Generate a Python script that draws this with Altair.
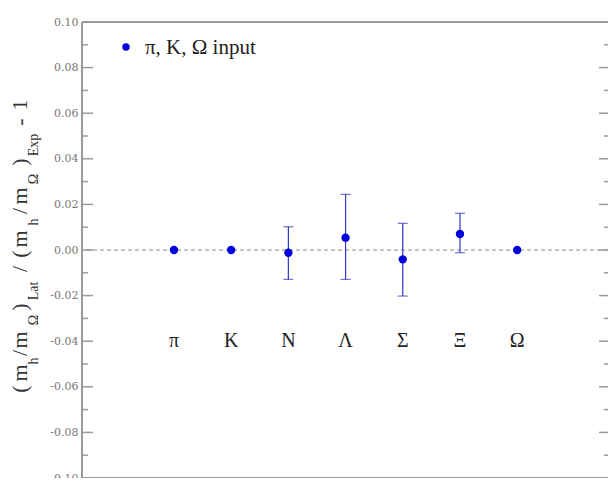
import altair as alt
import pandas as pd

# ---- data ----
hadrons = ["π", "K", "N", "Λ", "Σ", "Ξ", "Ω"]
xpos = [1, 2, 3, 4, 5, 6, 7]
values = [0.0, 0.0, -0.0012, 0.0054, -0.0041, 0.0070, 0.0]
err_hi = [None, None, 0.0102, 0.0244, 0.0117, 0.0161, None]
err_lo = [None, None, -0.0129, -0.0129, -0.0202, -0.0012, None]
label_y = -0.04
major_ticks = [-0.10, -0.08, -0.06, -0.04, -0.02, 0.00, 0.02, 0.04, 0.06, 0.08, 0.10]
minor_ticks = [-0.09, -0.07, -0.05, -0.03, -0.01, 0.01, 0.03, 0.05, 0.07, 0.09]
legend_text = "π, K, Ω input"

W, H = 526, 456
BLUE = "#0000dd"
GRAY = "#9a9a9a"
SERIF = "Liberation Serif"

df = pd.DataFrame({"x": xpos, "v": values, "hadron": hadrons})
dfe = pd.DataFrame({"x": xpos, "lo": err_lo, "hi": err_hi}).dropna()
dfl = pd.DataFrame({"x": xpos, "y": [label_y] * len(xpos), "hadron": hadrons})
dfmaj = pd.DataFrame({"t": major_ticks})
dfmin = pd.DataFrame({"t": minor_ticks})
dfz = pd.DataFrame({"z": [0.0]})

xs = alt.Scale(domain=[-0.608, 8.588], nice=False, zero=False)
ys = alt.Scale(domain=[-0.1, 0.1], nice=False, zero=False)

yaxis = alt.Axis(
    values=major_ticks, ticks=False, domain=False, grid=False, title=None,
    labelExpr="replace(format(datum.value, '.2f'), '\u2212', '-')",
    labelFont="DejaVu Serif", labelFontSize=11, labelColor="#777777",
    labelPadding=4,
)

X = lambda f: alt.X(f, type="quantitative", scale=xs, axis=None)
Y = lambda f: alt.Y(f, type="quantitative", scale=ys, axis=yaxis)

zero = alt.Chart(dfz).mark_rule(color="#888888", strokeDash=[4, 3], strokeWidth=1).encode(
    y=Y("z:Q")
)

# frame (left, top, bottom); right side lies at the picture's edge
frame_l = alt.Chart(dfz).mark_rule(color=GRAY, strokeWidth=2).encode(
    x=alt.value(0), y=alt.value(0), y2=alt.value(H))
frame_t = alt.Chart(dfz).mark_rule(color=GRAY, strokeWidth=2).encode(
    x=alt.value(0), x2=alt.value(W), y=alt.value(0))
frame_b = alt.Chart(dfz).mark_rule(color=GRAY, strokeWidth=2).encode(
    x=alt.value(0), x2=alt.value(W), y=alt.value(H))

maj_l = alt.Chart(dfmaj).mark_rule(color=GRAY, strokeWidth=1.5).encode(
    y=Y("t:Q"), x=alt.value(0), x2=alt.value(11))
min_l = alt.Chart(dfmin).mark_rule(color=GRAY, strokeWidth=1.5).encode(
    y=Y("t:Q"), x=alt.value(0), x2=alt.value(6))
maj_r = alt.Chart(dfmaj).mark_rule(color=GRAY, strokeWidth=1.5).encode(
    y=Y("t:Q"), x=alt.value(W + 2), x2=alt.value(W - 9))
min_r = alt.Chart(dfmin).mark_rule(color=GRAY, strokeWidth=1.5).encode(
    y=Y("t:Q"), x=alt.value(W + 2), x2=alt.value(W - 4))

ebar = alt.Chart(dfe).mark_rule(color="#3333cc", strokeWidth=1.2).encode(
    x=X("x:Q"), y=Y("lo:Q"), y2="hi:Q")
cap_hi = alt.Chart(dfe).mark_tick(color="#3333cc", orient="horizontal", size=10, thickness=1.2).encode(
    x=X("x:Q"), y=Y("hi:Q"))
cap_lo = alt.Chart(dfe).mark_tick(color="#3333cc", orient="horizontal", size=10, thickness=1.2).encode(
    x=X("x:Q"), y=Y("lo:Q"))

pts = alt.Chart(df).mark_circle(color=BLUE, opacity=1, size=70).encode(
    x=X("x:Q"), y=Y("v:Q"))

labels = alt.Chart(dfl).mark_text(font=SERIF, fontSize=20, color="#222222",
                                  align="center", baseline="middle").encode(
    x=X("x:Q"), y=Y("y:Q"), text="hadron:N")

leg_pt = alt.Chart(df.head(1)).mark_circle(color=BLUE, opacity=1, size=55).encode(
    x=alt.value(44), y=alt.value(25))
leg_tx = alt.Chart(df.head(1)).mark_text(font=SERIF, fontSize=21, color="#222222",
                                         align="left", baseline="middle").encode(
    x=alt.value(63), y=alt.value(26), text=alt.value(legend_text))

# rotated y-axis title built from pieces so that subscripts can be shown
title_pieces = [
    ("(", 389, False), ("m", 373, False), ("h", 361, True), ("/", 353, False),
    ("m", 340, False), ("Ω", 320, True), (")", 307, False), ("Lat", 291, True),
    ("/", 269, False), ("(", 254, False), ("m", 239, False), ("h", 222, True),
    ("/", 211, False), ("m", 196, False), ("Ω", 179, True), (")", 162, False),
    ("Exp", 145, True), ("-", 122, False), ("1", 105, False),
]
title_layers = []
for txt, py, sub in title_pieces:
    title_layers.append(
        alt.Chart(df.head(1)).mark_text(
            font=SERIF, fontSize=14 if sub else 22, color="#333333", angle=270,
            align="center", baseline="alphabetic",
        ).encode(x=alt.value(-44 if sub else -55), y=alt.value(py - 22), text=alt.value(txt))
    )

chart = alt.layer(
    zero, frame_l, frame_t, frame_b, maj_l, min_l, maj_r, min_r,
    ebar, cap_hi, cap_lo, pts, labels, leg_pt, leg_tx, *title_layers
).properties(
    width=W, height=H,
    padding={"left": 82, "top": 22, "right": 0, "bottom": 0},
    autosize=alt.AutoSizeParams(type="none"),
    background="white",
).configure_view(stroke=None)

chart.save("out.html", embed_options={"renderer": "svg", "actions": False})
